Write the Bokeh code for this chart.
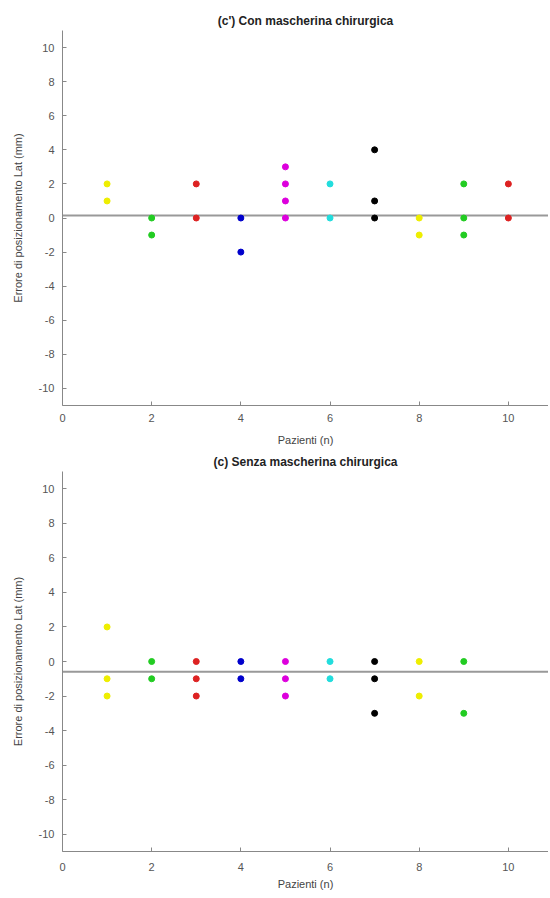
from bokeh.plotting import figure
from bokeh.layouts import column
from bokeh.models import Span, FixedTicker, Range1d, ColumnDataSource
from bokeh.embed import file_html
from bokeh.resources import INLINE

# ---- data ----
patients = list(range(1, 11))
patient_colors = ["#eeee00", "#22cc22", "#dd2222", "#0000cc", "#dd00dd",
                  "#22dddd", "#000000", "#eeee00", "#22cc22", "#dd2222"]

con_values = [[2, 1], [0, -1], [2, 0], [0, -2], [3, 2, 1, 0],
              [2, 0], [4, 1, 0], [0, -1], [2, 0, -1], [2, 0]]
senza_values = [[2, -1, -2], [0, -1], [0, -1, -2], [0, -1], [0, -1, -2],
                [0, -1], [0, -1, -3], [0, -2], [0, -3]]
con_mean = 0.15
senza_mean = -0.6

x_ticks = [0, 2, 4, 6, 8, 10]
y_ticks = list(range(-10, 11, 2))

title_con = "(c') Con mascherina chirurgica"
title_senza = "(c) Senza mascherina chirurgica"
x_label = "Pazienti (n)"
y_label = "Errore di posizionamento Lat (mm)"

FONT = "Liberation Sans"


def make_fig(title, values, mean, frame_h, top, bottom, tick_sto, lab_sto):
    xs, ys, cs = [], [], []
    for pat, vals in zip(patients, values):
        for v in vals:
            xs.append(pat)
            ys.append(v)
            cs.append(patient_colors[pat - 1])
    src = ColumnDataSource(dict(x=xs, y=ys, c=cs))
    p = figure(frame_width=486, frame_height=frame_h,
               x_range=Range1d(0, 10.9), y_range=Range1d(-11, 11),
               output_backend="svg", toolbar_location=None,
               min_border_left=62, min_border_right=0,
               min_border_top=top, min_border_bottom=bottom)
    p.title.text = title
    p.title.align = "center"
    p.title.text_font = FONT
    p.title.text_font_size = "12px"
    p.title.text_font_style = "bold"
    p.title.text_color = "#222222"
    p.title.standoff = 5
    p.outline_line_color = None
    p.grid.visible = False
    p.background_fill_color = "white"
    p.border_fill_color = "white"

    for ax in (p.xaxis[0], p.yaxis[0]):
        ax.axis_line_color = "#888888"
        ax.major_tick_line_color = "#888888"
        ax.major_tick_in = 4
        ax.major_tick_out = 0
        ax.minor_tick_line_color = None
        ax.major_label_text_font = FONT
        ax.major_label_text_font_size = "11px"
        ax.major_label_text_color = "#555555"
        ax.axis_label_text_font = FONT
        ax.axis_label_text_font_size = "11px"
        ax.axis_label_text_font_style = "normal"
        ax.axis_label_text_color = "#444444"
        ax.major_label_standoff = 8
    p.xaxis[0].ticker = FixedTicker(ticks=x_ticks)
    p.yaxis[0].ticker = FixedTicker(ticks=y_ticks)
    p.yaxis[0].major_label_overrides = {t: str(t) for t in y_ticks}
    p.xaxis[0].axis_label = x_label
    p.yaxis[0].axis_label = y_label
    p.xaxis[0].major_label_standoff = tick_sto
    p.xaxis[0].axis_label_standoff = lab_sto
    p.yaxis[0].axis_label_standoff = 12

    span = Span(location=mean, dimension="width", line_color="#999999",
                line_width=2, level="underlay")
    p.add_layout(span)
    p.scatter("x", "y", source=src, size=6, marker="circle",
              fill_color="c", line_color="c")
    return p


p1 = make_fig(title_con, con_values, con_mean, 375, 30, 43, 8, 9)
p2 = make_fig(title_senza, senza_values, senza_mean, 380, 23, 39, 11, 4)

layout = column(p1, p2, spacing=0)
open("out.html", "w").write(file_html(layout, INLINE))
